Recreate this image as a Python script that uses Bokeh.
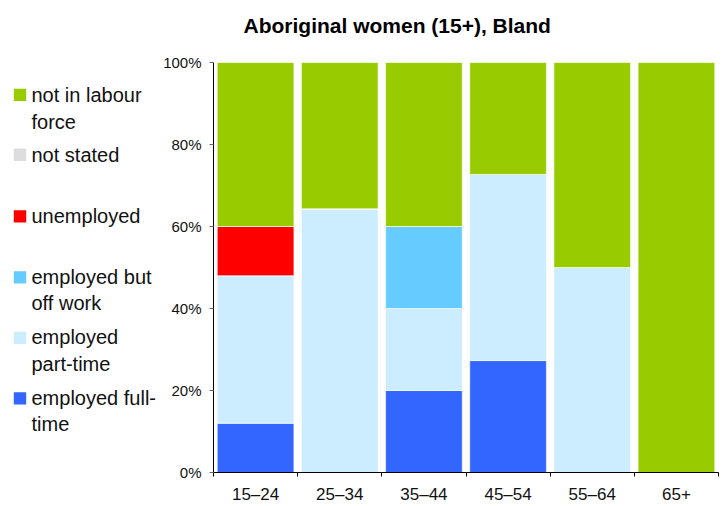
from bokeh.plotting import figure
from bokeh.layouts import row, column
from bokeh.models import ColumnDataSource, FixedTicker, PrintfTickFormatter, Range1d
from bokeh.core.properties import value
from bokeh.embed import file_html
from bokeh.resources import INLINE

# ---- data ----
categories = ["15–24", "25–34", "35–44", "45–54", "55–64", "65+"]
employed_full_time = [12.0, 0.0, 20.0, 27.3, 0.0, 0.0]
employed_part_time = [36.0, 64.3, 20.0, 45.4, 50.0, 0.0]
employed_off_work = [0.0, 0.0, 20.0, 0.0, 0.0, 0.0]
unemployed = [12.0, 0.0, 0.0, 0.0, 0.0, 0.0]
not_stated = [0.0, 0.0, 0.0, 0.0, 0.0, 0.0]
not_in_labour_force = [40.0, 35.7, 40.0, 27.3, 50.0, 100.0]

series_keys = ["full", "part", "off", "unemp", "ns", "nilf"]
series_labels = ["employed full-time", "employed part-time", "employed but off work",
                 "unemployed", "not stated", "not in labour force"]
colors = ["#3366FF", "#CCECFF", "#66CCFF", "#FF0000", "#DDDDDD", "#99CC00"]
y_ticks = [0, 20, 40, 60, 80, 100]
title_text = "Aboriginal women (15+), Bland"

FONT = "Liberation Sans"
TOTAL_W = 723
TITLE_H = 50
BODY_H = 456
LEGEND_W = 158
FRAME_TOP_IMG = 62.3      # image y of the chart frame top
FRAME_BOTTOM_IMG = 472.3  # image y of the chart frame bottom
MID = 0.35                # baseline -> middle offset, in em


def blank(width, height, x_range, y_range):
    f = figure(width=width, height=height, output_backend="svg", toolbar_location=None,
               x_range=x_range, y_range=y_range, x_axis_location=None,
               y_axis_location=None, min_border=0)
    f.outline_line_color = None
    f.grid.visible = False
    return f


# ---- title strip (data y = image y) ----
t = blank(TOTAL_W, TITLE_H, Range1d(0, TOTAL_W), Range1d(TITLE_H, 0))
t.text(x=[396.7], y=[32.3 - MID * 21], text=[title_text], text_font=value(FONT),
       text_font_size="21px", text_font_style="bold", text_align="center",
       text_baseline="middle", text_color="black")

# ---- legend panel: its frame is aligned with the chart frame; data y = image y ----
lg = blank(LEGEND_W, BODY_H, Range1d(0, LEGEND_W), Range1d(FRAME_BOTTOM_IMG, FRAME_TOP_IMG))
legend_entries = [  # series index, wrapped label lines, square top, text baselines
    (5, ["not in labour", "force"], 88.5, [101.7, 128.3]),
    (4, ["not stated"], 148.3, [161.7]),
    (3, ["unemployed"], 210, [223]),
    (2, ["employed but", "off work"], 271, [283.5, 310]),
    (1, ["employed", "part-time"], 331.5, [344, 370.5]),
    (0, ["employed full-", "time"], 392, [404.5, 431]),
]
sq_l, sq_r, sq_t, sq_b, sq_c = [], [], [], [], []
tx, ty, tt = [], [], []
for idx, lines, top, baselines in legend_entries:
    sq_l.append(13.3); sq_r.append(25.7); sq_t.append(top); sq_b.append(top + 12.4)
    sq_c.append(colors[idx])
    for txt, bl in zip(lines, baselines):
        tx.append(31); ty.append(bl - MID * 20); tt.append(txt)
lg.quad(left=sq_l, right=sq_r, top=sq_t, bottom=sq_b, fill_color=sq_c, line_color=None)
lg.text(x=tx, y=ty, text=tt, text_font=value(FONT), text_font_size="20px",
        text_baseline="middle", text_align="left", text_color="#111111")

# ---- main chart ----
x_pos = [i + 0.5 for i in range(len(categories))]
source = ColumnDataSource(dict(
    x=x_pos,
    full=employed_full_time, part=employed_part_time, off=employed_off_work,
    unemp=unemployed, ns=not_stated, nilf=not_in_labour_force,
))

p = figure(width=TOTAL_W - LEGEND_W, height=BODY_H, output_backend="svg",
           toolbar_location=None,
           x_range=Range1d(0, len(categories)), y_range=Range1d(0, 100),
           min_border_left=55, min_border_right=5, min_border_top=12,
           min_border_bottom=34)
p.outline_line_color = None
p.xgrid.grid_line_color = None
p.ygrid.grid_line_color = None

p.vbar_stack(series_keys, x="x", width=0.911, color=colors, source=source,
             line_color="white", line_alpha=0.6, line_width=1)

xa = p.xaxis[0]
xa.ticker = FixedTicker(ticks=x_pos, minor_ticks=list(range(len(categories) + 1)))
xa.major_label_overrides = {x: c for x, c in zip(x_pos, categories)}
xa.major_tick_line_color = None
xa.minor_tick_line_color = "black"
xa.minor_tick_out = 4
xa.minor_tick_in = 0
xa.major_label_standoff = 6
xa.major_label_text_font = FONT
xa.major_label_text_font_size = "17px"
xa.major_label_text_color = "#111111"
xa.axis_line_color = "black"

ya = p.yaxis[0]
ya.ticker = FixedTicker(ticks=y_ticks, minor_ticks=[])
ya.formatter = PrintfTickFormatter(format="%d%%")
ya.major_tick_out = 4
ya.major_tick_in = 0
ya.major_tick_line_color = "#666666"
ya.major_label_standoff = 8
ya.major_label_text_font = FONT
ya.major_label_text_font_size = "15px"
ya.major_label_text_color = "#111111"
ya.axis_line_color = "black"

layout = column(t, row(lg, p))
open("out.html", "w").write(file_html(layout, INLINE))
